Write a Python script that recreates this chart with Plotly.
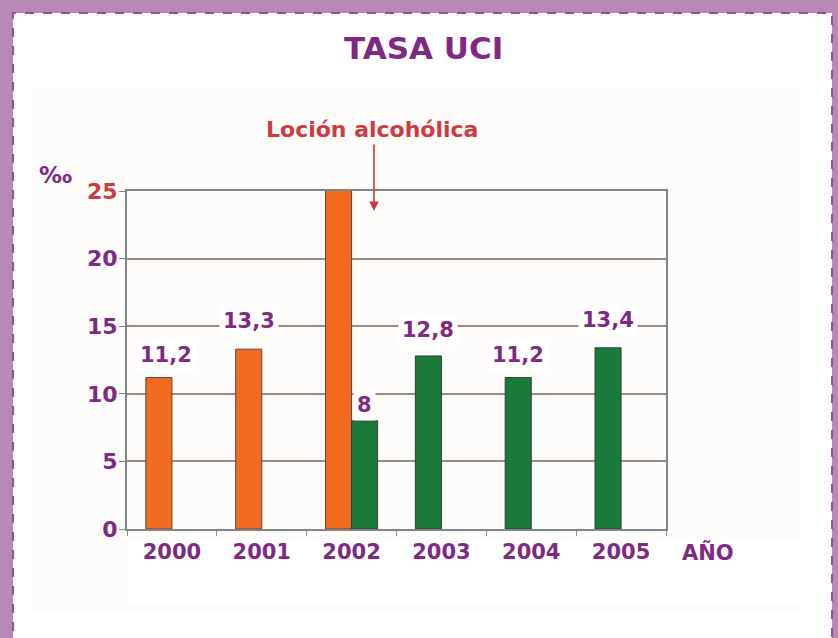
import plotly.graph_objects as go

# ---- data ----
years = ["2000", "2001", "2002", "2003", "2004", "2005"]
orange_years = ["2000", "2001", "2002"]
orange_values = [11.2, 13.3, 25.9]
green_years = ["2002", "2003", "2004", "2005"]
green_values = [8, 12.8, 11.2, 13.4]
orange_labels = ["11,2", "13,3", "25,9"]
green_labels = ["8", "12,8", "11,2", "13,4"]
y_ticks = [0, 5, 10, 15, 20, 25]

# ---- styles ----
PURPLE = "#7F2A82"
RED = "#CF3A40"
ORANGE = "#F26A1E"
GREEN = "#1A7A3A"
FONT = "DejaVu Sans"
orange_label_shift = [(7, 23), (0, 28), (0, 24)]
green_label_shift = [(0, 16), (0, 26), (0, 23), (0, 28)]

W, H = 838, 638
ML, MR, MT, MB = 127, 172, 191, 109
PW, PH = W - ML - MR, H - MT - MB

def px(x):
    return (x - ML) / PW

def py(y):
    return (H - MB - y) / PH

def b(t):
    return f"<b>{t}</b>"

bw = 0.29
green_offsets = [0] + [-bw] * (len(green_years) - 1)

fig = go.Figure()
fig.add_bar(x=orange_years, y=orange_values, width=bw, offset=-bw,
            marker=dict(color=ORANGE, line=dict(color="#5A4436", width=1)),
            hoverinfo="skip")
fig.add_bar(x=green_years, y=green_values, width=bw, offset=green_offsets,
            marker=dict(color=GREEN, line=dict(color="#2F3F33", width=1)),
            hoverinfo="skip")

ann = []
lab_font = dict(family=FONT, size=21, color=PURPLE)
for yr, v, t, (xs, ys) in zip(orange_years, orange_values, orange_labels, orange_label_shift):
    i = years.index(yr)
    ann.append(dict(x=i - bw / 2, y=v, xref="x", yref="y", text=b(t), showarrow=False,
                    xanchor="center", yanchor="middle", xshift=xs,
                    yshift=ys, font=lab_font, bgcolor="white", borderpad=3))
for yr, v, t, o, (xs, ys) in zip(green_years, green_values, green_labels, green_offsets, green_label_shift):
    i = years.index(yr)
    ann.append(dict(x=i + o + bw / 2, y=v, xref="x", yref="y", text=b(t), showarrow=False,
                    xanchor="center", yanchor="middle", xshift=xs,
                    yshift=ys, font=lab_font, bgcolor="white", borderpad=3))

def paper_text(x, y, text, size, color):
    return dict(x=px(x), y=py(y), xref="paper", yref="paper", text=b(text),
                showarrow=False, xanchor="center", yanchor="middle",
                font=dict(family=FONT, size=size, color=color))

ann.append(paper_text(423, 48, "TASA UCI", 31, PURPLE))
ann.append(paper_text(55, 175, "‰", 23, PURPLE))
ann.append(paper_text(708, 552, "AÑO", 21, PURPLE))
ann.append(paper_text(372, 129, "Loción alcohólica", 22, RED))
# arrow
ann.append(dict(x=px(374), y=py(211), xref="paper", yref="paper", text="",
                showarrow=True, ax=0, ay=-68, arrowcolor=RED, arrowwidth=1.6,
                arrowhead=2, arrowsize=1.2))

shapes = [
    dict(type="rect", xref="paper", yref="paper", x0=px(13), x1=px(832), y0=py(700), y1=py(13),
         fillcolor="white", line=dict(color="#9A4C9C", width=2, dash="dash"), layer="below"),
    dict(type="rect", xref="paper", yref="paper", x0=px(32), x1=px(800), y0=py(612), y1=py(88),
         fillcolor="#FEFCFB", line=dict(width=0), layer="below"),
    dict(type="rect", xref="paper", yref="paper", x0=px(128), x1=px(800), y0=py(606), y1=py(540),
         fillcolor="white", line=dict(width=0), layer="below"),
]

tick_text = [f"<b><span style='color:{RED}'>{t}</span></b>" if t == 25 else b(t) for t in y_ticks]

fig.update_layout(
    width=W, height=H,
    margin=dict(l=ML, r=MR, t=MT, b=MB, pad=0),
    paper_bgcolor="#B888B9",
    plot_bgcolor="white",
    barmode="overlay",
    showlegend=False,
    annotations=ann,
    shapes=shapes,
    xaxis=dict(categoryorder="array", categoryarray=years, range=[-0.5, 5.5],
               tickvals=years, ticktext=[b(y) for y in years],
               showgrid=False, showline=True, linecolor="#7E8589", linewidth=2, mirror=True,
               ticks="outside", ticklen=5, tickcolor="#8A9096", tickson="boundaries",
               ticklabelstandoff=3,
               tickfont=dict(family=FONT, size=21, color=PURPLE),
               zeroline=False),
    yaxis=dict(range=[0, 25], tickvals=y_ticks, ticktext=tick_text,
               showgrid=True, gridcolor="#9C8A80", gridwidth=2,
               showline=True, linecolor="#7E8589", linewidth=2, mirror=True,
               ticks="outside", ticklen=6, tickcolor="#8A8580",
               ticklabelstandoff=-3,
               tickfont=dict(family=FONT, size=22, color=PURPLE),
               zeroline=False),
)

fig.write_html("out.html", config={"displayModeBar": False},
               post_script="document.body.style.margin='0';document.body.style.overflow='hidden';")
